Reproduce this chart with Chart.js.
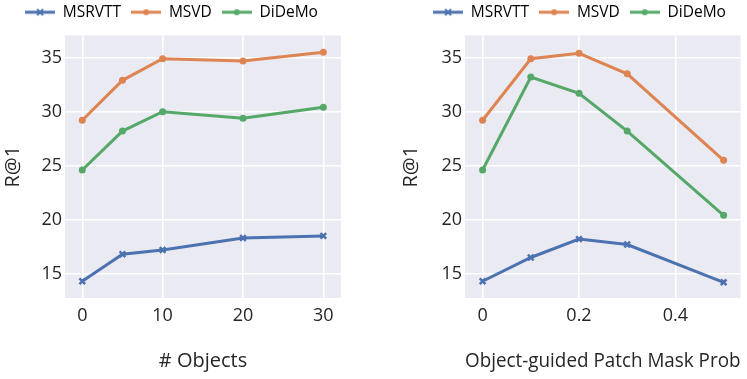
<!DOCTYPE html>
<html>
<head>
<meta charset="utf-8">
<script src="https://cdn.jsdelivr.net/npm/chart.js@4"></script>
<style>
  body { margin: 0; background: #fff; }
  .box { position: absolute; top: 0; height: 379px; }
  #left { left: 0; width: 380px; }
  #right { left: 380px; width: 367px; }
</style>
</head>
<body>
<div class="box" id="left"><canvas id="objChart"></canvas></div>
<div class="box" id="right"><canvas id="maskChart"></canvas></div>
<script>
// data
const seriesNames = ["MSRVTT", "MSVD", "DiDeMo"];
const seriesColors = ["#4C72B0", "#DD8452", "#55A868"];

const objectCounts = [0, 5, 10, 20, 30];
const objMsrvtt = [14.3, 16.8, 17.2, 18.3, 18.5];
const objMsvd = [29.2, 32.9, 34.9, 34.7, 35.5];
const objDidemo = [24.6, 28.2, 30.0, 29.4, 30.4];

const maskProbs = [0, 0.1, 0.2, 0.3, 0.5];
const maskMsrvtt = [14.3, 16.5, 18.2, 17.7, 14.2];
const maskMsvd = [29.2, 34.9, 35.4, 33.5, 25.5];
const maskDidemo = [24.6, 33.2, 31.7, 28.2, 20.4];

const yTicks = [15, 20, 25, 30, 35];
const objTicks = [0, 10, 20, 30];
const maskTicks = [0, 0.2, 0.4];

const FONT = "'Open Sans', sans-serif";
const INK = "#262626";

// legend swatch: a short line with the marker in the middle
function swatch(color, cross) {
    const c = document.createElement("canvas");
    c.width = 30; c.height = 10;
    const g = c.getContext("2d");
    g.strokeStyle = color; g.fillStyle = color; g.lineWidth = 3;
    g.beginPath(); g.moveTo(0, 5); g.lineTo(30, 5); g.stroke();
    if (cross) {
        g.lineWidth = 2;
        g.beginPath();
        g.moveTo(12, 2); g.lineTo(18, 8); g.moveTo(18, 2); g.lineTo(12, 8);
        g.stroke();
    } else {
        g.beginPath(); g.arc(15, 5, 3, 0, Math.PI * 2); g.fill();
    }
    return c;
}

const plotBg = {
    id: "plotBg",
    beforeDraw(chart) {
        const a = chart.chartArea, ctx = chart.ctx;
        ctx.save();
        ctx.fillStyle = "#EAEAF2";
        ctx.fillRect(a.left, a.top, a.right - a.left, a.bottom - a.top);
        ctx.restore();
    }
};

// nudge the legend box after layout (matplotlib places it by bbox)
const legendShift = {
    id: "legendShift",
    afterLayout(chart, args, opts) {
        chart.legend.left += opts.dx || 0;
        chart.legend.right += opts.dx || 0;
        chart.legend.top += opts.dy || 0;
        chart.legend.bottom += opts.dy || 0;
    }
};

function makeDatasets(xs, ys) {
    return ys.map((vals, i) => ({
        label: seriesNames[i],
        data: xs.map((x, j) => ({ x: x, y: vals[j] })),
        borderColor: seriesColors[i],
        backgroundColor: seriesColors[i],
        borderWidth: 3,
        pointStyle: i === 0 ? "crossRot" : "circle",
        pointRadius: i === 0 ? 4 : 3.5,
        pointBorderWidth: i === 0 ? 2.5 : 0,
        tension: 0
    }));
}

function drawPanel(id, xs, ys, xMin, xMax, xTickVals, xTitle, yWidth, padRight, yTitlePad, shift) {
    const ctx = document.getElementById(id).getContext("2d");
    new Chart(ctx, {
        type: "line",
        data: { datasets: makeDatasets(xs, ys) },
        plugins: [plotBg, legendShift],
        options: {
            responsive: true,
            maintainAspectRatio: false,
            animation: false,
            layout: { padding: { left: 0, right: padRight, top: 0, bottom: 0 } },
            scales: {
                x: {
                    type: "linear",
                    min: xMin, max: xMax,
                    afterBuildTicks: s => { s.ticks = xTickVals.map(v => ({ value: v })); },
                    afterFit: s => { s.height = 81; },
                    grid: { color: "#ffffff", lineWidth: 1.5, drawTicks: false },
                    border: { display: false },
                    ticks: { color: INK, font: { family: FONT, size: 18 }, padding: 7,
                             callback: v => String(v) },
                    title: { display: true, text: xTitle, color: INK,
                             font: { family: FONT, size: 20 }, padding: { top: 0, bottom: 6 } }
                },
                y: {
                    min: 12.75, max: 37.05,
                    afterBuildTicks: s => { s.ticks = yTicks.map(v => ({ value: v })); },
                    afterFit: s => { s.width = yWidth; },
                    grid: { color: "#ffffff", lineWidth: 1.5, drawTicks: false },
                    border: { display: false },
                    ticks: { color: INK, font: { family: FONT, size: 18 }, padding: 3 },
                    title: { display: true, text: "R@1", color: INK,
                             font: { family: FONT, size: 20 }, padding: { top: yTitlePad, bottom: 2 } }
                }
            },
            plugins: {
                legendShift: { dx: shift, dy: -5.5 },
                tooltip: { enabled: false },
                legend: {
                    position: "top",
                    labels: {
                        color: INK,
                        font: { family: FONT, size: 15.5 },
                        usePointStyle: true,
                        pointStyleWidth: 30,
                        padding: 10,
                        generateLabels: chart => chart.data.datasets.map((d, i) => ({
                            text: d.label,
                            pointStyle: swatch(seriesColors[i], i === 0),
                            fillStyle: seriesColors[i],
                            strokeStyle: seriesColors[i],
                            lineWidth: 0,
                            datasetIndex: i
                        }))
                    }
                }
            }
        }
    });
}

drawPanel("objChart", objectCounts, [objMsrvtt, objMsvd, objDidemo],
          -2.15, 32.2, objTicks, "# Objects", 65, 39, 1, 1);
drawPanel("maskChart", maskProbs, [maskMsrvtt, maskMsvd, maskDidemo],
          -0.0365, 0.535, maskTicks, "Object-guided Patch Mask Prob", 85, 6, 19, 19);
</script>
</body>
</html>
